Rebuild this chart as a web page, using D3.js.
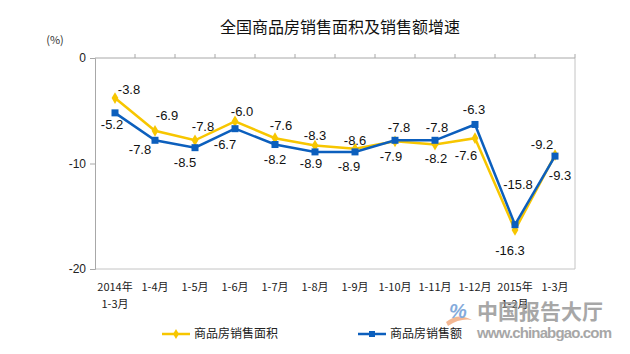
<!DOCTYPE html>
<html>
<head>
<meta charset="utf-8">
<script src="https://cdn.jsdelivr.net/npm/d3@7"></script>
<style>
  body { margin: 0; background: #fff; }
  svg { display: block; }
</style>
</head>
<body>
<div id="chart"></div>
<script>
// data
const categories = ["2014年|1-3月", "1-4月", "1-5月", "1-6月", "1-7月", "1-8月", "1-9月",
  "1-10月", "1-11月", "1-12月", "2015年|1-2月", "1-3月"];
const areaGrowth = [-3.8, -6.9, -7.8, -6.0, -7.6, -8.3, -8.6, -7.9, -8.2, -7.6, -16.3, -9.2];
const amountGrowth = [-5.2, -7.8, -8.5, -6.7, -8.2, -8.9, -8.9, -7.8, -7.8, -6.3, -15.8, -9.3];
const yTicks = [0, -10, -20];
const seriesNames = ["商品房销售面积", "商品房销售额"];

// where each value label sits relative to its point
const areaLabelPos = [[14, -9], [12, -15], [8, -14], [7, -10], [6, -13], [0, -10],
  [0, -8], [-4, 15], [1, 14], [-9, 17], [-5, 20], [-13, -11]];
const amountLabelPos = [[-3, 12], [-15, 9], [-10, 15], [-10, 16], [0, 15], [-4, 12],
  [-6, 15], [4, -13], [2, -13], [-1, -15], [3, -40], [5, 19]];

const W = 630, H = 354;
const yellow = "#f7c600", blue = "#0c5fbd";
const latin = "'Liberation Sans', Arial, sans-serif";
const cjk = "'Noto Sans CJK SC', sans-serif";

const svg = d3.select("#chart").append("svg")
  .attr("width", W).attr("height", H);

const x = d3.scaleBand().domain(categories).range([95, 575]);
const y = d3.scaleLinear().domain([-20, 0]).range([269, 58]);
const cx = (d, i) => x(categories[i]) + x.bandwidth() / 2;

// title
svg.append("text")
  .attr("x", 340).attr("y", 33)
  .attr("text-anchor", "middle")
  .style("font-family", cjk).style("font-size", "16px").attr("fill", "#111")
  .text("全国商品房销售面积及销售额增速");

svg.append("text")
  .attr("x", 55).attr("y", 44)
  .attr("text-anchor", "middle")
  .style("font-family", cjk).style("font-size", "11px").attr("fill", "#333")
  .text("(%)");

// frame: right and bottom
svg.append("line").attr("x1", 575).attr("x2", 575).attr("y1", y(0)).attr("y2", y(-20))
  .attr("stroke", "#c4c4c4");
svg.append("line").attr("x1", 95).attr("x2", 575).attr("y1", y(-20)).attr("y2", y(-20))
  .attr("stroke", "#c4c4c4");

// y axis
const yAxis = svg.append("g")
  .attr("transform", "translate(95,0)")
  .call(d3.axisLeft(y).tickValues(yTicks).tickSize(5).tickPadding(4).tickFormat(d => String(d)));
yAxis.select(".domain").attr("stroke", "#a8a8a8");
yAxis.selectAll(".tick line").attr("stroke", "#a8a8a8");
yAxis.selectAll("text").style("font-family", latin).style("font-size", "12px").attr("fill", "#222");

// category axis at zero line, ticks on band edges
const edges = categories.map(c => x(c)).concat([x.range()[1]]);
const zeroAxis = svg.append("g");
zeroAxis.append("line").attr("x1", 95).attr("x2", 575).attr("y1", y(0)).attr("y2", y(0))
  .attr("stroke", "#a8a8a8");
zeroAxis.selectAll("line.tk").data(edges.slice(1)).join("line")
  .attr("class", "tk")
  .attr("x1", d => d).attr("x2", d => d)
  .attr("y1", y(0)).attr("y2", y(0) - 4)
  .attr("stroke", "#a8a8a8");

// category labels along the bottom
const xl = svg.append("g");
categories.forEach((c, i) => {
  const lines = c.split("|");
  const t = xl.append("text")
    .attr("x", x(c) + x.bandwidth() / 2).attr("y", 291)
    .attr("text-anchor", "middle")
    .style("font-family", cjk).style("font-size", "11px").attr("fill", "#222");
  lines.forEach((l, k) => {
    t.append("tspan").attr("x", x(c) + x.bandwidth() / 2).attr("dy", k === 0 ? 0 : 17).text(l);
  });
});

// lines
const line = d3.line().x(cx).y(d => y(d));

svg.append("path").datum(areaGrowth)
  .attr("d", line).attr("fill", "none").attr("stroke", yellow).attr("stroke-width", 2.5);
svg.append("path").datum(amountGrowth)
  .attr("d", line).attr("fill", "none").attr("stroke", blue).attr("stroke-width", 2.5);

// markers
svg.append("g").selectAll("path").data(areaGrowth).join("path")
  .attr("d", d3.symbol(d3.symbolDiamond, 40))
  .attr("transform", (d, i) => `translate(${cx(d, i)},${y(d)})`)
  .attr("fill", yellow);
svg.append("g").selectAll("rect").data(amountGrowth).join("rect")
  .attr("x", (d, i) => cx(d, i) - 3.5).attr("y", d => y(d) - 3.5)
  .attr("width", 7).attr("height", 7)
  .attr("fill", blue);

// value labels
function labels(data, pos) {
  svg.append("g").selectAll("text").data(data).join("text")
    .attr("x", (d, i) => cx(d, i) + pos[i][0])
    .attr("y", (d, i) => y(d) + pos[i][1])
    .attr("dy", "0.35em")
    .attr("text-anchor", "middle")
    .style("font-family", latin).style("font-size", "13px").attr("fill", "#111")
    .text(d => d.toFixed(1));
}
labels(areaGrowth, areaLabelPos);
labels(amountGrowth, amountLabelPos);

// legend
const legend = svg.append("g").style("font-family", cjk).style("font-size", "12px");
[[yellow, 162], [blue, 358]].forEach(([col, lx], i) => {
  legend.append("line").attr("x1", lx).attr("x2", lx + 28).attr("y1", 334).attr("y2", 334)
    .attr("stroke", col).attr("stroke-width", 2.5);
  if (i === 0) {
    legend.append("path").attr("d", d3.symbol(d3.symbolDiamond, 30))
      .attr("transform", `translate(${lx + 14},334)`).attr("fill", col);
  } else {
    legend.append("rect").attr("x", lx + 11).attr("y", 331).attr("width", 6).attr("height", 6)
      .attr("fill", col);
  }
  legend.append("text").attr("x", lx + 32).attr("y", 338).attr("fill", "#222")
    .text(seriesNames[i]);
});

// watermark
const wm = svg.append("g").attr("opacity", 0.75);
wm.append("path").attr("d", "M446,322 Q458,312 472,320 Q460,318 448,326 Z").attr("fill", "#f0a070");
wm.append("text").attr("x", 458).attr("y", 318).attr("text-anchor", "middle")
  .style("font-family", latin).style("font-size", "20px").style("font-style", "italic")
  .style("font-weight", "bold").attr("fill", "#5b8fd0").text("%");
wm.append("text").attr("x", 477).attr("y", 319)
  .style("font-family", cjk).style("font-size", "21px").style("font-weight", "bold")
  .attr("fill", "#8a8a8a").text("中国报告大厅");
wm.append("text").attr("x", 477).attr("y", 338)
  .attr("textLength", 135)
  .style("font-family", latin).style("font-size", "15px").style("font-weight", "bold")
  .attr("fill", "#8a8a8a").text("www.chinabgao.com");
</script>
</body>
</html>
